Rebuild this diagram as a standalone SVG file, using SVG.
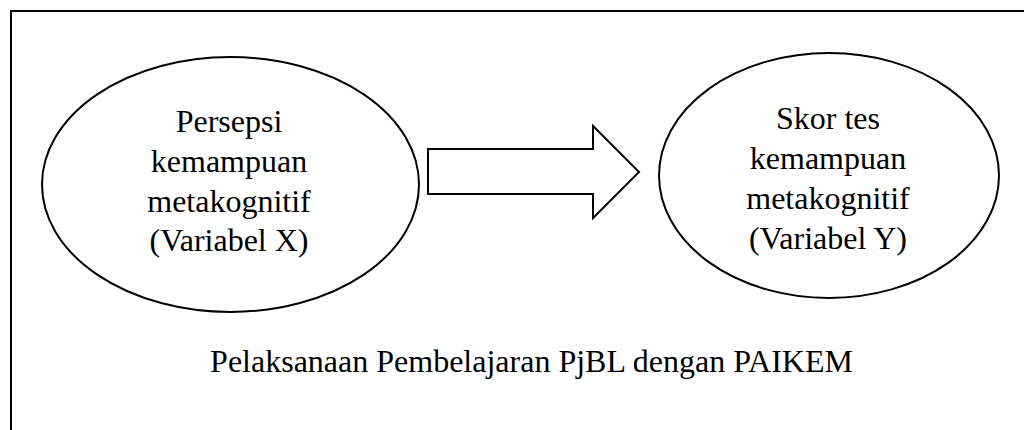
<svg xmlns="http://www.w3.org/2000/svg" width="1024" height="430" viewBox="0 0 1024 430">
<style>
.shape{fill:#fff;stroke:#000;stroke-width:2}
.t{font-family:"Liberation Serif","Times New Roman",serif;font-size:32px;fill:#000;text-anchor:middle}
</style>
<rect width="1024" height="430" fill="#fff"/>
<path d="M11 431 L11 11 L1025 11" fill="none" stroke="#000" stroke-width="2"/>
<g id="nodeX">
<ellipse class="shape" cx="230.5" cy="184.5" rx="188.5" ry="127.5"/>
<text class="t" x="229" y="132">Persepsi</text>
<text class="t" x="229" y="171.5">kemampuan</text>
<text class="t" x="229" y="211.5">metakognitif</text>
<text class="t" x="229" y="251">(Variabel X)</text>
</g>
<g id="nodeY">
<ellipse class="shape" cx="829" cy="175.5" rx="170" ry="122.5"/>
<text class="t" x="828" y="129">Skor tes</text>
<text class="t" x="828" y="169">kemampuan</text>
<text class="t" x="828" y="209">metakognitif</text>
<text class="t" x="828" y="249">(Variabel Y)</text>
</g>
<g id="connectors">
<path class="shape" d="M428 149 L593 149 L593 126 L639 172 L593 218 L593 194 L428 194 Z"/>
</g>
<g id="caption">
<text class="t" x="531.5" y="372">Pelaksanaan Pembelajaran PjBL dengan PAIKEM</text>
</g>
</svg>
